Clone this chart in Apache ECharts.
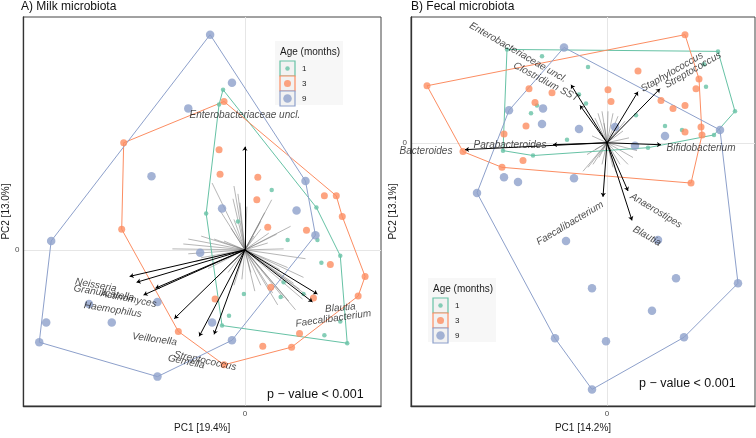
<!DOCTYPE html>
<html><head><meta charset="utf-8">
<script src="https://cdn.jsdelivr.net/npm/echarts@6/dist/echarts.min.js"></script>
<style>html,body{margin:0;padding:0;background:#fff}#c{width:756px;height:438px}</style>
</head><body><div id="c"></div>
<script>
// ---------------- DATA (PC1, PC2 scores in plot units) ----------------
const ageGroups = ['1', '3', '9'];
const ageColors = ['#66C2A5', '#FC8D62', '#8DA0CB'];

// Panel A: milk microbiota
const milkAge1 = [[-22,163],[-26,148],[27,61],[72,43],[-39,37],[-7,29],[43,10],[73,10],[96,-6],[77,-13],[39,-33],[59,-45],[-1,-45],[36,-48],[-16,-67],[-23,-77],[96,-73],[80,-87],[103,-95]];
const milkAge3 = [[-21,151],[-122,109],[-26,102],[-25,77],[13,74],[12,51],[80,55],[92,55],[98,34],[23,23],[62,20],[-124,21],[86,-15],[121,-27],[26,-38],[114,-47],[69,-49],[-30,-50],[-67,-83],[55,-85],[18,-98],[47,-99],[-21,-117]];
const milkAge9 = [[-35,219],[-13,170],[-57,144],[-94,75],[-23,42],[52,40],[61,70],[71,15],[-195,9],[-45,-3],[-157,-55],[-88,-53],[-200,-74],[-134,-74],[-33,-74],[-207,-94],[-13,-92],[-88,-129]];
const milkHull1 = [[-22,163],[72,43],[96,-6],[103,-95],[-23,-77],[-39,37],[-26,148],[-22,163]];
const milkHull3 = [[-21,151],[92,55],[98,34],[121,-27],[114,-47],[47,-99],[-21,-117],[-67,-83],[-124,21],[-122,109],[-21,151]];
const milkHull9 = [[-35,219],[61,70],[71,15],[-13,-92],[-88,-129],[-207,-94],[-195,9],[-35,219]];
const milkTaxa = ['Neisseria','Granulicatella','Actinomyces','Haemophilus','Veillonella','Streptococcus','Gemella','Faecalibacterium','Blautia','Enterobacteriaceae uncl.'];
const milkArrowTips = [[-116,-27],[-109,-33],[-90,-39],[-102,-46],[-71,-70],[-46,-88],[-31,-86],[68,-53],[73,-45],[0,105]];
const milkLabelPos = [[-150,-36],[-142,-44],[-117,-50],[-133,-61],[-91,-91],[-40,-113],[-59,-114],[89,-70],[96,-59],[0,137]];
const milkLabelAngle = [-10,-9,-11,-9,-8,-12,-12,8,5,0];
const milkOtherLoadings = [[-33,68],[-11,65],[-7,57],[27,51],[-12,52],[32,16],[24,17],[-73,1],[-21,9],[61,-9],[59,-28],[43,-18],[9,14],[16,29],[-57,11],[-44,14],[-31,11],[-14,22],[-11,31],[16,21],[46,24],[49,-34],[39,-49],[51,-61],[16,-36],[6,-23],[-11,-36],[-17,-23],[-37,-19],[-44,-8],[-57,-4],[39,1],[23,7],[28,-44],[33,-56],[-3,-30],[2,44],[-62,6],[-50,-12],[55,-40],[44,-52],[58,-50],[62,-46],[35,-20],[-25,40],[-5,48],[20,38],[-28,-28],[10,-42]];

// Panel B: fecal microbiota
const fecalAge1 = [[-100,95],[111,93],[-65,88],[-19,77],[97,80],[99,57],[-28,49],[-21,40],[-76,30],[-70,38],[128,32],[29,28],[58,17],[75,13],[107,8],[-40,3],[-104,-8],[-74,-13],[41,-5]];
const fecalAge3 = [[78,110],[-180,58],[31,73],[-78,55],[-55,51],[1,54],[4,42],[-72,41],[92,65],[89,55],[54,43],[66,35],[78,38],[-81,17],[-103,9],[94,16],[78,11],[95,8],[-144,-9],[-84,-18],[-105,-25],[84,-41]];
const fecalAge9 = [[-43,97],[-98,33],[-64,35],[-65,19],[-28,14],[8,16],[58,7],[113,13],[28,-3],[-103,-35],[-89,-40],[-33,-36],[-130,-51],[-41,-100],[51,-99],[69,-138],[131,-143],[-15,-148],[45,-171],[-52,-199],[-1,-202],[77,-198],[-15,-251]];
const fecalHull1 = [[-100,95],[111,93],[128,32],[107,8],[41,-5],[-74,-13],[-104,-8],[-100,95]];
const fecalHull3 = [[-180,58],[78,110],[92,65],[95,8],[84,-41],[-105,-25],[-144,-9],[-180,58]];
const fecalHull9 = [[-43,97],[113,13],[131,-143],[77,-198],[-15,-251],[-52,-199],[-130,-51],[-98,33],[-43,97]];
const fecalTaxa = ['Enterobacteriaceae uncl.','Clostridium SST','Staphylococcus','Streptococcus','Parabacteroides','Bacteroides','Bifidobacterium','Faecalibacterium','Anaerostipes','Blautia'];
const fecalArrowTips = [[-36,59],[-27,38],[31,52],[53,55],[-54,-2],[-142,-7],[54,-2],[-4,-55],[21,-49],[25,-79]];
const fecalLabelPos = [[-89,92],[-61,62],[65,72],[86,74],[-97,-3],[-181,-9],[94,-6],[-37,-82],[49,-69],[40,-95]];
const fecalLabelAngle = [-30,-28,30,30,0,0,0,31,-31,-30];
const fecalOtherLoadings = [[-9,30],[-5,32],[1,32],[6,30],[11,27],[18,22],[-12,25],[-24,-29],[-19,-25],[-14,-22],[-5,-22],[6,-25],[13,-22],[21,-22],[26,-15],[-12,-7],[30,-8],[16,12],[-15,7],[-3,20],[9,-30],[-8,-15],[22,5],[-20,-12]];

const axisTitlesX = ['PC1 [19.4%]', 'PC1 [14.2%]'];
const axisTitlesY = ['PC2 [13.0%]', 'PC2 [13.1%]'];
const panelTitles = ['A) Milk microbiota', 'B) Fecal microbiota'];
const pValueText = 'p \u2212 value < 0.001';

// ---------------- CHART ----------------
const FONT = '"Liberation Sans", Arial, sans-serif';
const panels = [
  {pts:[milkAge1,milkAge3,milkAge9], hulls:[milkHull1,milkHull3,milkHull9], taxa:milkTaxa, tips:milkArrowTips, lab:milkLabelPos, ang:milkLabelAngle, other:milkOtherLoadings},
  {pts:[fecalAge1,fecalAge3,fecalAge9], hulls:[fecalHull1,fecalHull3,fecalHull9], taxa:fecalTaxa, tips:fecalArrowTips, lab:fecalLabelPos, ang:fecalLabelAngle, other:fecalOtherLoadings}
];
const sizes = [4.5, 7, 8.5];
const series = [];
panels.forEach((p, i) => {
  const ax = {xAxisIndex:i, yAxisIndex:i};
  series.push(Object.assign({type:'lines', coordinateSystem:'cartesian2d', silent:true, z:1,
    lineStyle:{color:'#666', width:0.6, opacity:0.8},
    data:p.other.map(e => ({coords:[[0,0], e]})),
    markLine:{silent:true, symbol:'none', label:{show:false}, lineStyle:{color:'#e6e6e6', width:1, type:'solid'}, data:[{xAxis:0},{yAxis:0}], z:0}
  }, ax));
  p.hulls.forEach((h, g) => {
    series.push(Object.assign({type:'line', name:ageGroups[g], data:h, symbol:'none', z:2,
      lineStyle:{color:ageColors[g], width:1}}, ax));
  });
  p.pts.forEach((d, g) => {
    series.push(Object.assign({type:'scatter', name:ageGroups[g], data:d, symbolSize:sizes[g], z:3,
      itemStyle:{color:ageColors[g], opacity:0.8}}, ax));
  });
  series.push(Object.assign({type:'lines', coordinateSystem:'cartesian2d', silent:true, z:4,
    symbol:['none','arrow'], symbolSize:[0,4],
    lineStyle:{color:'#000', width:1, opacity:1},
    data:p.tips.map(e => ({coords:[[0,0], e]}))}, ax));
  series.push(Object.assign({type:'scatter', symbolSize:0, z:5, silent:true,
    data:p.lab.map((e, k) => ({value:e, name:p.taxa[k], label:{rotate:p.ang[k]}})),
    label:{show:true, position:'inside', formatter:'{b}', fontStyle:'italic', fontSize:10, color:'#1a1a1a', fontFamily:FONT}
  }, ax));
});

const ranges = [{x:[-223,137], y:[-159,237]}, {x:[-196,148], y:[-268,128]}];
const grids = [{left:21, right:375, top:17, bottom:25}, {left:411, right:1, top:17, bottom:25}];
const zeroOnly = v => (v === 0 ? '0' : '');

function legendGraphic(x, y) {
  const els = [];
  els.push({type:'rect', shape:{x:x-5, y:y-6, width:68, height:64}, style:{fill:'#f7f7f7'}, silent:true});
  els.push({type:'text', x:x, y:y+5, style:{text:'Age (months)', fill:'#1a1a1a', font:'10px ' + FONT, verticalAlign:'middle'}, silent:true});
  ageGroups.forEach((a, g) => {
    const ty = y + 14 + g * 15;
    els.push({type:'rect', shape:{x:x, y:ty, width:15, height:15}, style:{fill:'#f2f2f2', stroke:ageColors[g], lineWidth:1.2}, silent:true});
    els.push({type:'circle', shape:{cx:x+7.5, cy:ty+7.5, r:sizes[g]/2}, style:{fill:ageColors[g], opacity:0.8}, silent:true});
    els.push({type:'text', x:x+22, y:ty+7.5, style:{text:a, font:'8px ' + FONT, fill:'#1a1a1a', verticalAlign:'middle'}, silent:true});
  });
  return els;
}

const option = {
  animation:false,
  textStyle:{fontFamily:FONT},
  title: panelTitles.map((t, i) => ({text:t, left: i ? 411 : 21, top:1, padding:0,
    textStyle:{fontSize:12, fontWeight:'normal', color:'#111', fontFamily:FONT}})),
  grid: grids.map(g => Object.assign({show:true, borderColor:'#444', borderWidth:1, backgroundColor:'#fff'}, g)),
  xAxis: ranges.map((r, i) => ({gridIndex:i, type:'value', min:r.x[0], max:r.x[1],
    axisLine:{show:true, onZero:false, lineStyle:{color:'#333', width:1.3}},
    axisTick:{show:false}, splitLine:{show:false},
    axisLabel:{customValues:[0], formatter:zeroOnly, showMinLabel:false, showMaxLabel:false, fontSize:8, color:'#4d4d4d', margin:4},
    name:axisTitlesX[i], nameLocation:'middle', nameGap:14, nameTextStyle:{fontSize:10, color:'#1a1a1a'}})),
  yAxis: ranges.map((r, i) => ({gridIndex:i, type:'value', min:r.y[0], max:r.y[1],
    axisLine:{show:true, onZero:false, lineStyle:{color:'#333', width:1.3}},
    axisTick:{show:false}, splitLine:{show:false},
    axisLabel:{customValues:[0], formatter:zeroOnly, showMinLabel:false, showMaxLabel:false, fontSize:8, color:'#4d4d4d', margin:4},
    name:axisTitlesY[i], nameLocation:'middle', nameGap:i ? 10 : 11, nameRotate:90, nameTextStyle:{fontSize:10, color:'#1a1a1a'}})),
  series: series,
  graphic: [].concat(
    legendGraphic(280, 47),
    legendGraphic(433, 284),
    [
      {type:'text', x:267, y:395, style:{text:pValueText, font:'12.5px ' + FONT, fill:'#111', verticalAlign:'middle'}, silent:true, z:10},
      {type:'text', x:639, y:384, style:{text:pValueText, font:'12.5px ' + FONT, fill:'#111', verticalAlign:'middle'}, silent:true, z:10}
    ])
};
const chart = echarts.init(document.getElementById('c'), null, {renderer:'canvas'});
chart.setOption(option);
</script></body></html>
